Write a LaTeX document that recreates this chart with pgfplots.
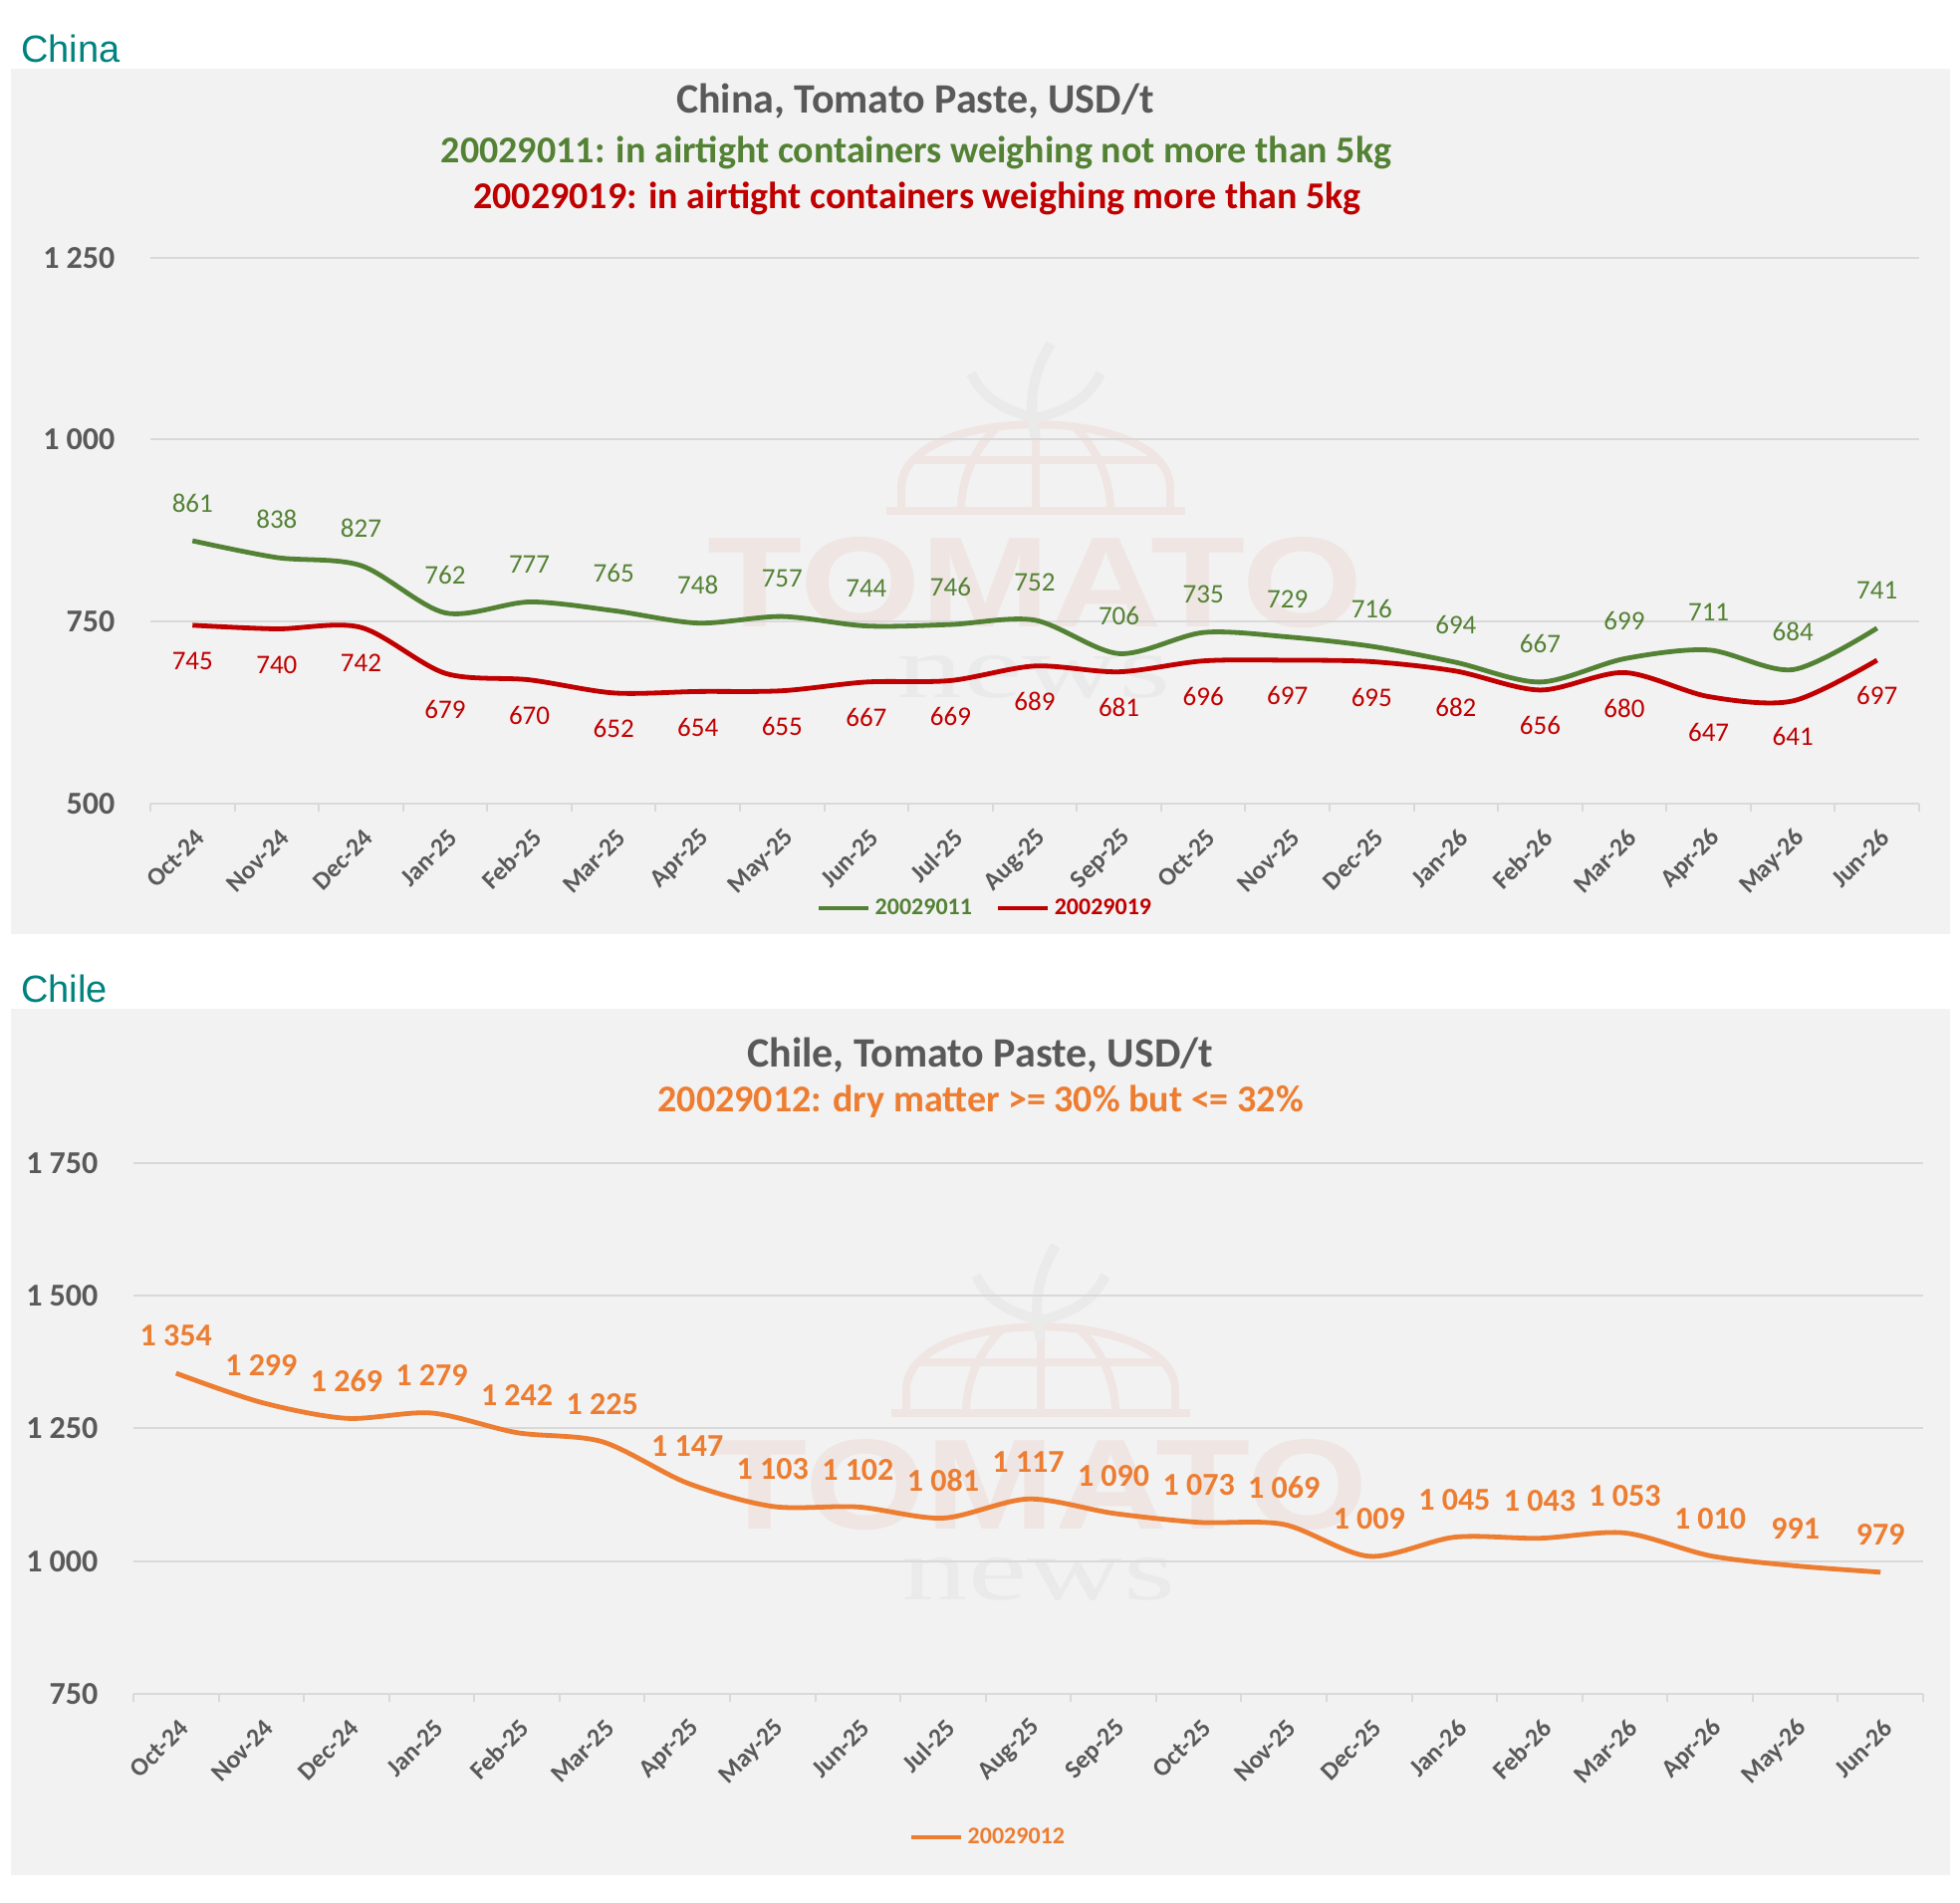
\documentclass[border=0pt]{standalone}
\usepackage{fontspec}
\setmainfont{Carlito}
\newfontfamily\arialfont{Liberation Sans}
\newfontfamily\seriffont{Liberation Serif}
\usepackage{graphicx}
\usepackage{pgfplots}
\usepackage{pgfplotstable}
\pgfplotsset{compat=1.18}
\definecolor{cgreen}{HTML}{548235}
\definecolor{cred}{HTML}{C00000}
\definecolor{corange}{HTML}{ED7D31}
\definecolor{tgray}{HTML}{595959}
\definecolor{gridc}{HTML}{D9D9D9}
\definecolor{bgc}{HTML}{F2F2F2}
\definecolor{tealc}{HTML}{00827F}
\definecolor{wmred}{HTML}{EFE5E3}
\definecolor{wmgray}{HTML}{EAEAEA}

\pgfplotstableread{
x g r
0 861 745
1 838 740
2 827 742
3 762 679
4 777 670
5 765 652
6 748 654
7 757 655
8 744 667
9 746 669
10 752 689
11 706 681
12 735 696
13 729 697
14 716 695
15 694 682
16 667 656
17 699 680
18 711 647
19 684 641
20 741 697
}\chinadata

\pgfplotstableread{
x c
0 1354
1 1299
2 1269
3 1279
4 1242
5 1225
6 1147
7 1103
8 1102
9 1081
10 1117
11 1090
12 1073
13 1069
14 1009
15 1045
16 1043
17 1053
18 1010
19 991
20 979
}\chiledata

\pgfplotsset{
  commonaxis/.style={
    scale only axis,
    anchor=south west,
    xmin=-0.5, xmax=20.5,
    xtick={0,...,20},
    xticklabels={Oct-24,Nov-24,Dec-24,Jan-25,Feb-25,Mar-25,Apr-25,May-25,Jun-25,Jul-25,Aug-25,Sep-25,Oct-25,Nov-25,Dec-25,Jan-26,Feb-26,Mar-26,Apr-26,May-26,Jun-26},
    minor xtick={-0.5,0.5,1.5,2.5,3.5,4.5,5.5,6.5,7.5,8.5,9.5,10.5,11.5,12.5,13.5,14.5,15.5,16.5,17.5,18.5,19.5,20.5},
    major x tick style={draw=none},
    minor x tick style={draw=gridc, line width=1pt},
    minor tick length=4pt,
    tick align=outside,
    ytick style={draw=none},
    ymajorgrids,
    grid style={draw=gridc, line width=1pt},
    axis x line*=bottom, axis y line*=left,
    x axis line style={draw=gridc, line width=1pt, -},
    y axis line style={draw=none},
    yticklabel style={font=\bfseries\fontsize{16}{19}\selectfont, text=tgray, xshift=-10pt},
    xticklabel style={font=\bfseries\fontsize{12.8}{15}\selectfont, text=tgray, rotate=45, anchor=east, yshift=-10.5pt, xshift=-1.5pt},
    /pgf/number format/.cd, 1000 sep={\ }, assume math mode=true,
    /pgfplots/.cd,
    clip=false,
    legend style={draw=none, fill=none, legend columns=-1,
      font=\bfseries\fontsize{12}{14}\selectfont,
      /tikz/every even column/.append style={column sep=10pt}},
    legend image code/.code={\draw[#1] (0pt,0pt) -- (25pt,0pt);},
  }
}

\begin{document}
\begin{tikzpicture}
\path[use as bounding box, fill=white] (0pt,0pt) rectangle (984pt,-955pt);
\fill[bgc] (5.5pt,-34.5pt) rectangle (979pt,-469pt);
\fill[bgc] (5.5pt,-506.5pt) rectangle (979pt,-941.5pt);

% watermarks
\foreach \dx/\dy in {0/0, 5/906}{
\begin{scope}[x=0.5pt, y=-0.5pt, shift={(\dx,\dy)}]
  \draw[wmred, line width=4pt] (890,513) -- (1190,513);
  \draw[wmred, line width=4pt] (905,513) -- (905,490) .. controls (905,405) and (1175,405) .. (1175,490) -- (1175,513);
  \draw[wmred, line width=4pt] (1040,425) -- (1040,513);
  \draw[wmred, line width=4pt] (1000,430) .. controls (975,455) and (965,485) .. (965,513);
  \draw[wmred, line width=4pt] (1080,430) .. controls (1105,455) and (1115,485) .. (1115,513);
  \draw[wmred, line width=4pt] (915,462) -- (1165,462);
  \draw[wmgray, line width=5pt] (1040,440) .. controls (1030,400) and (1040,370) .. (1055,345);
  \draw[wmgray, line width=5pt] (1040,420) .. controls (1000,410) and (985,395) .. (975,375);
  \draw[wmgray, line width=5pt] (1040,420) .. controls (1080,410) and (1095,395) .. (1105,375);
  \node[inner sep=0, text=wmred] at (1040,585) {\resizebox{329pt}{45pt}{\bfseries\arialfont TOMATO}};
  \node[inner sep=0, text=wmgray, anchor=base] at (1038,700) {\resizebox{137pt}{21pt}{\seriffont news}};
\end{scope}
}

% section labels
\node[anchor=base west, inner sep=0, text=tealc, font=\arialfont\fontsize{19}{22}\selectfont] at (10.3pt,-31.2pt) {China};
\node[anchor=base west, inner sep=0, text=tealc, font=\arialfont\fontsize{19}{22}\selectfont] at (10.3pt,-503pt) {Chile};

% titles
\node[anchor=base, inner sep=0, text=tgray, font=\bfseries\fontsize{21}{25}\selectfont] at (459.5pt,-56.65pt) {China, Tomato Paste, USD/t};
\node[anchor=base, inner sep=0, text=cgreen, font=\bfseries\fontsize{19}{23}\selectfont] at (460pt,-82pt) {20029011: in airtight containers weighing not more than 5kg};
\node[anchor=base, inner sep=0, text=cred, font=\bfseries\fontsize{19}{23}\selectfont] at (460.5pt,-105pt) {20029019: in airtight containers weighing more than 5kg};
\node[anchor=base, inner sep=0, text=tgray, font=\bfseries\fontsize{21}{25}\selectfont] at (492.15pt,-535.85pt) {Chile, Tomato Paste, USD/t};
\node[anchor=base, inner sep=0, text=corange, font=\bfseries\fontsize{19}{23}\selectfont] at (492.3pt,-558.35pt) {20029012: dry matter >= 30\% but <= 32\%};

% China axis
\begin{axis}[commonaxis,
  at={(75.5pt,-403.5pt)}, width=888pt, height=274.2pt,
  ymin=500, ymax=1250, ytick={500,750,1000,1250},
  legend style={at={(0.4724,-0.1915)}, anchor=center},
]
\addlegendimage{cgreen, line width=2.4pt}
\addlegendentry{\textcolor{cgreen}{20029011}}
\addlegendimage{cred, line width=2.4pt}
\addlegendentry{\textcolor{cred}{20029019}}
\addplot[forget plot, cgreen, line width=2.4pt, smooth, nodes near coords,
  every node near coord/.append style={font=\fontsize{13.5}{16}\selectfont, text=cgreen, anchor=center, yshift=19pt}]
  table[x=x, y=g] {\chinadata};
\addplot[forget plot, cred, line width=2.4pt, smooth, nodes near coords,
  every node near coord/.append style={font=\fontsize{13.5}{16}\selectfont, text=cred, anchor=center, yshift=-18pt}]
  table[x=x, y=r] {\chinadata};
\end{axis}

% Chile axis
\begin{axis}[commonaxis,
  at={(67pt,-850.4pt)}, width=898.5pt, height=266.4pt,
  ymin=750, ymax=1750, ytick={750,1000,1250,1500,1750},
  legend style={at={(0.478,-0.2706)}, anchor=center},
]
\addlegendimage{corange, line width=2.4pt}
\addlegendentry{\textcolor{corange}{20029012}}
\addplot[forget plot, corange, line width=2.4pt, smooth, nodes near coords,
  every node near coord/.append style={font=\bfseries\fontsize{16}{19}\selectfont, text=corange, anchor=center, yshift=18.75pt}]
  table[x=x, y=c] {\chiledata};
\end{axis}
\end{tikzpicture}
\end{document}
